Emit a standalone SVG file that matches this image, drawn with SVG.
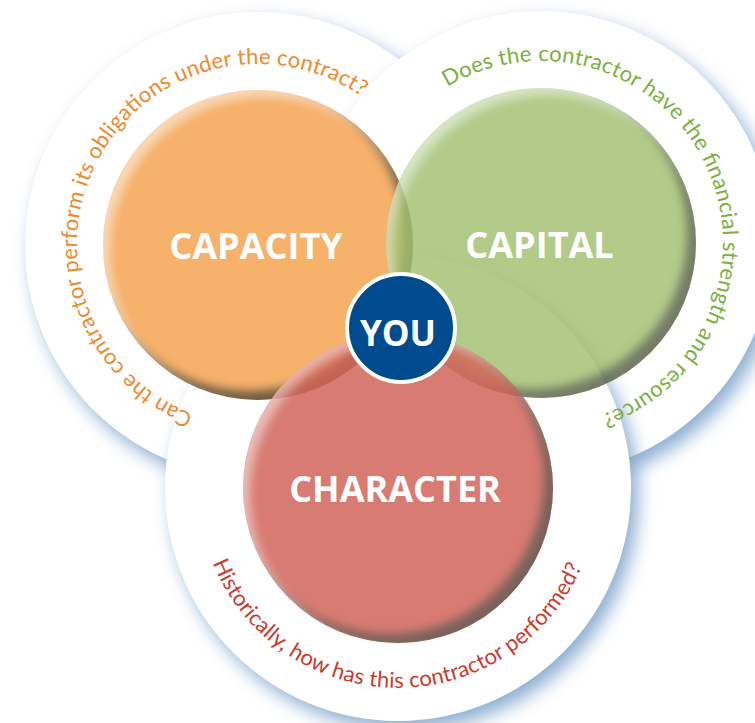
<svg xmlns="http://www.w3.org/2000/svg" width="755" height="723" viewBox="0 0 755 723">
<style>
.ring{fill:#ffffff;filter:url(#ringShadow)}
.q{font-family:Lato,"Open Sans","DejaVu Sans",sans-serif;font-size:22px;font-weight:400}
.title{font-family:"Open Sans","Noto Sans","DejaVu Sans",sans-serif;font-weight:700;fill:#ffffff;text-anchor:middle}
.disc{filter:url(#bevel)}
</style>
<defs>
<filter id="ringShadow" x="-20%" y="-20%" width="140%" height="140%" color-interpolation-filters="sRGB">
  <feGaussianBlur in="SourceAlpha" stdDeviation="9" result="b"/>
  <feOffset in="b" dx="7" dy="9" result="o"/>
  <feFlood flood-color="#87a9cf" flood-opacity="0.95"/>
  <feComposite in2="o" operator="in" result="s"/>
  <feMerge><feMergeNode in="s"/><feMergeNode in="SourceGraphic"/></feMerge>
</filter>
<filter id="bevel" x="-5%" y="-5%" width="110%" height="110%" color-interpolation-filters="sRGB">
  <feGaussianBlur in="SourceAlpha" stdDeviation="5" result="blur"/>
  <feOffset in="blur" dx="-9" dy="-9" result="offD"/>
  <feComposite in="SourceAlpha" in2="offD" operator="out" result="rimD"/>
  <feFlood flood-color="#3a3a32" flood-opacity="0.72"/>
  <feComposite in2="rimD" operator="in" result="dark"/>
  <feOffset in="blur" dx="7" dy="7" result="offL"/>
  <feComposite in="SourceAlpha" in2="offL" operator="out" result="rimL"/>
  <feFlood flood-color="#ffffff" flood-opacity="0.5"/>
  <feComposite in2="rimL" operator="in" result="light"/>
  <feMerge><feMergeNode in="SourceGraphic"/><feMergeNode in="dark"/><feMergeNode in="light"/></feMerge>
</filter>
<path id="arcCapacity" d="M 193.13 413.98 A 181 181 0 1 1 365.66 99.5"/>
<path id="arcCapital" d="M 447.27 87.0 A 182 182 0 1 1 597.24 416.1"/>
<path id="arcCharacter" d="M 212.6 562.9 A 200 200 0 0 0 583.4 562.9"/>
</defs>
<rect width="755" height="723" fill="#ffffff"/>

<g id="rings">
  <circle id="capacity-ring" class="ring" cx="258" cy="245" r="233"/>
  <circle id="capital-ring" class="ring" cx="541" cy="243" r="232"/>
  <circle id="character-ring" class="ring" cx="398" cy="488" r="233"/>
</g>

<g id="capacity-question">
  <text class="q" fill="#ef8a2c"><textPath href="#arcCapacity" textLength="612" lengthAdjust="spacing">Can the contractor perform its obligations under the contract?</textPath></text>
</g>
<g id="capital-question">
  <text class="q" fill="#7cb043"><textPath href="#arcCapital" textLength="608" lengthAdjust="spacing">Does the contractor have the financial strength and resource?</textPath></text>
</g>
<g id="character-question">
  <text class="q" fill="#c93a30"><textPath href="#arcCharacter" textLength="470" lengthAdjust="spacing">Historically, how has this contractor performed?</textPath></text>
</g>

<g id="capacity">
  <circle class="disc" cx="258" cy="245" r="155" fill="#f6b16b"/>
  <text class="title" x="256" y="259" font-size="36">CAPACITY</text>
</g>
<g id="capital">
  <circle class="disc" cx="541" cy="243" r="155" fill="#a2c070" opacity="0.82"/>
  <text class="title" x="539.5" y="258" font-size="36">CAPITAL</text>
</g>
<g id="character">
  <circle class="disc" cx="398" cy="488" r="155" fill="#d2655a" opacity="0.85"/>
  <text class="title" x="395" y="502" font-size="36">CHARACTER</text>
</g>
<g id="you">
  <circle cx="401" cy="328" r="54" fill="#004b8d" stroke="#ffffff" stroke-width="4"/>
  <text class="title" x="398" y="346" font-size="35" font-weight="600">YOU</text>
</g>
</svg>
